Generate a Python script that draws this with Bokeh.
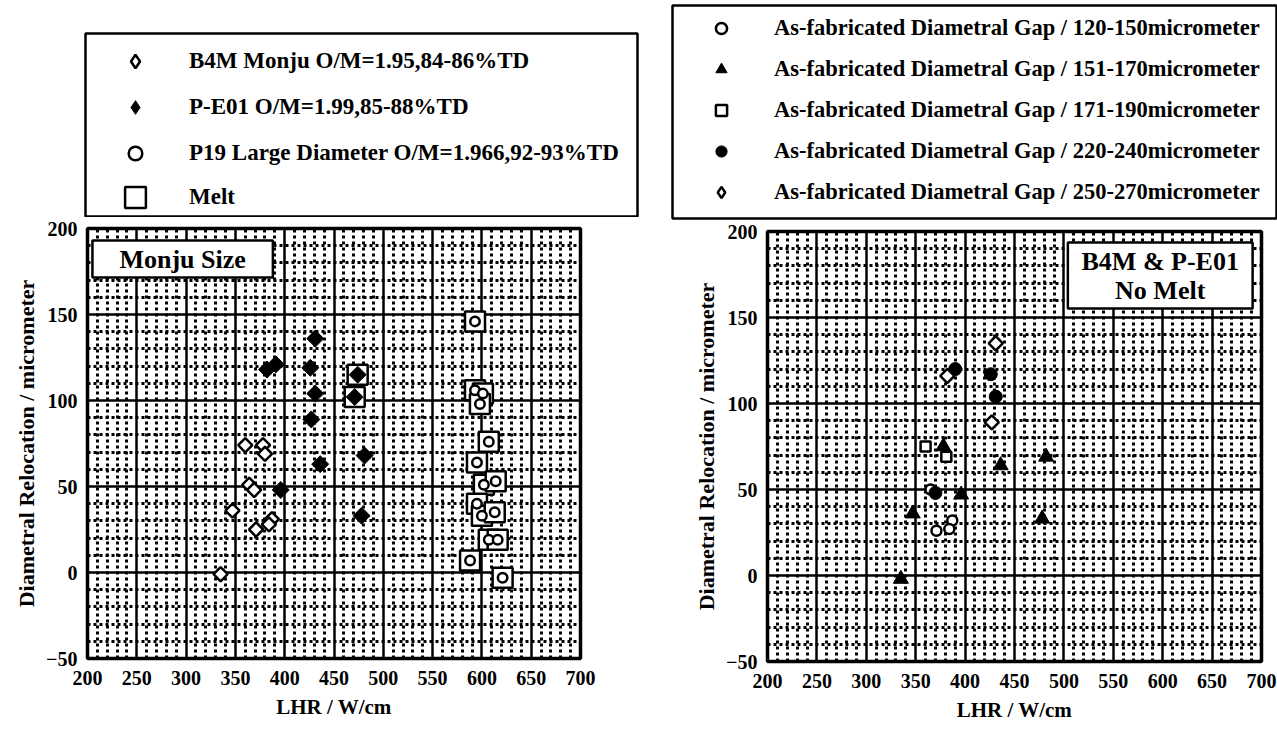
import math
import numpy as np
from bokeh.plotting import figure
from bokeh.models import (FixedTicker, Legend, LegendItem, BoxAnnotation, Label, Range1d)
from bokeh.layouts import row, column
from bokeh.embed import file_html
from bokeh.resources import INLINE

# ---------------- data: left panel (Monju size) ----------------
b4m_lhr = [360, 378, 380, 364, 369, 347, 371, 387, 384, 335]
b4m_reloc = [74, 74, 69, 51, 48, 36, 25, 31, 28, -1]

pe01_lhr = [431, 382, 391, 426, 431, 427, 436, 396, 481, 478, 474, 471]
pe01_reloc = [136, 118, 121, 119, 104, 89, 63, 48, 68, 33, 115, 102]
pe01_melt = [False, False, False, False, False, False, False, False, False, False, True, True]

p19_lhr = [593, 593, 601, 598, 607, 595, 602, 614, 595, 600, 613, 607, 616, 588, 621]
p19_reloc = [146, 106, 104, 98, 76, 64, 51, 53, 40, 33, 35, 19, 19, 7, -3]
p19_melt = [True] * 15

left_labels = ["B4M Monju O/M=1.95,84-86%TD",
               "P-E01 O/M=1.99,85-88%TD",
               "P19 Large Diameter O/M=1.966,92-93%TD",
               "Melt"]

# ---------------- data: right panel (no melt, by gap) ----------------
gap120_lhr = [365, 371, 387, 384]
gap120_reloc = [50, 26, 32, 27]
gap151_lhr = [378, 436, 396, 347, 335, 482, 478]
gap151_reloc = [75, 64, 47, 36, -2, 69, 33]
gap171_lhr = [360, 381]
gap171_reloc = [75, 69]
gap220_lhr = [390, 426, 431, 370]
gap220_reloc = [120, 117, 104, 48]
gap250_lhr = [431, 382, 427]
gap250_reloc = [135, 116, 89]

right_labels = ["As-fabricated Diametral Gap / 120-150micrometer",
                "As-fabricated Diametral Gap / 151-170micrometer",
                "As-fabricated Diametral Gap / 171-190micrometer",
                "As-fabricated Diametral Gap / 220-240micrometer",
                "As-fabricated Diametral Gap / 250-270micrometer"]

x_ticks = [200, 250, 300, 350, 400, 450, 500, 550, 600, 650, 700]
y_ticks = [-50, 0, 50, 100, 150, 200]
x_label = "LHR / W/cm"
y_label = "Diametral Relocation / micrometer"

FONT = "Liberation Serif"
x_minor = [v for v in range(x_ticks[0], x_ticks[-1] + 1, 10) if v not in x_ticks]
y_minor = [v for v in range(y_ticks[0], y_ticks[-1] + 1, 10) if v not in y_ticks]
NAN = np.array([np.nan])

# marker styles
OPEN = dict(fill_color="white", line_color="black", line_width=2.5)
FILLED = dict(fill_color="black", line_color="black", line_width=1)


def make_fig(width, height, left, right, top, bottom):
    p = figure(width=width, height=height, x_range=Range1d(200, 700), y_range=Range1d(-50, 200),
               output_backend="svg", toolbar_location=None,
               min_border_left=left, min_border_right=right,
               min_border_top=top, min_border_bottom=bottom)
    p.frame_align = False
    p.background_fill_color = "white"
    p.border_fill_color = "white"
    xt = FixedTicker(ticks=x_ticks, minor_ticks=x_minor)
    yt = FixedTicker(ticks=y_ticks, minor_ticks=y_minor)
    p.xaxis.ticker = xt
    p.yaxis.ticker = yt
    p.xgrid.ticker = xt
    p.ygrid.ticker = yt
    for g in (p.xgrid, p.ygrid):
        g.grid_line_color = "black"
        g.grid_line_width = 2.5
        g.grid_line_alpha = 1
        g.minor_grid_line_color = "black"
        g.minor_grid_line_width = 3
        g.minor_grid_line_dash = "3 3"
    p.axis.axis_line_color = None
    p.axis.major_tick_line_color = None
    p.axis.minor_tick_line_color = None
    p.axis.major_tick_out = 0
    p.axis.major_tick_in = 0
    p.axis.minor_tick_out = 0
    p.axis.minor_tick_in = 0
    p.axis.major_label_text_font = FONT
    p.axis.major_label_text_font_style = "bold"
    p.axis.major_label_text_font_size = "20px"
    p.axis.major_label_text_color = "black"
    p.axis.axis_label_text_font = FONT
    p.axis.axis_label_text_font_style = "bold"
    p.axis.axis_label_text_color = "black"
    p.xaxis.axis_label = x_label
    p.yaxis.axis_label = y_label
    p.xaxis.axis_label_text_font_size = "21px"
    p.yaxis.axis_label_text_font_size = "22px"
    p.xaxis.major_label_standoff = 12
    p.yaxis.major_label_standoff = 10
    p.xaxis.axis_label_standoff = 7
    p.yaxis.axis_label_standoff = 4
    p.outline_line_color = "black"
    p.outline_line_width = 3.5
    p.outline_line_alpha = 1
    return p


def make_legend_fig(width, height, left, right, top, bottom):
    f = figure(width=width, height=height, x_range=Range1d(0, 1), y_range=Range1d(0, 1),
               x_axis_type=None, y_axis_type=None, output_backend="svg", toolbar_location=None,
               min_border_left=left, min_border_right=right, min_border_top=top, min_border_bottom=bottom)
    f.frame_align = False
    f.background_fill_color = "white"
    f.border_fill_color = "white"
    f.outline_line_color = "black"
    f.outline_line_width = 2.5
    f.outline_line_alpha = 1
    return f


def style_legend(lg, font_size, gw, gh, standoff, label_w, spacing):
    lg.label_text_font = FONT
    lg.label_text_font_style = "bold"
    lg.label_text_font_size = font_size
    lg.label_text_color = "black"
    lg.label_text_baseline = "middle"
    lg.glyph_width = gw
    lg.glyph_height = gh
    lg.label_standoff = standoff
    lg.label_width = label_w
    lg.label_height = gh
    lg.padding = 0
    lg.spacing = spacing
    lg.margin = 0
    lg.border_line_color = None
    lg.background_fill_alpha = 0


# ---------------- left panel ----------------
pl = make_fig(640, 513, 87, 60, 11, 72)

melt_x = [x for x, m in zip(p19_lhr, p19_melt) if m] + [x for x, m in zip(pe01_lhr, pe01_melt) if m]
melt_y = [y for y, m in zip(p19_reloc, p19_melt) if m] + [y for y, m in zip(pe01_reloc, pe01_melt) if m]

pl.rect(x=melt_x, y=melt_y, width=20, height=20, width_units="screen", height_units="screen",
        fill_color="white", line_color="black", line_width=2.5)
pl.scatter(b4m_lhr, b4m_reloc, marker="square", angle=math.pi / 4, size=10, **OPEN)
pl.scatter(pe01_lhr, pe01_reloc, marker="square", angle=math.pi / 4, size=12, **FILLED)
pl.scatter(p19_lhr, p19_reloc, marker="circle", size=9.5, **OPEN)

pl.add_layout(BoxAnnotation(left=205, right=388, top=193, bottom=171.5, fill_color="white", fill_alpha=1,
                            line_color="black", line_width=2.5, line_alpha=1))
pl.add_layout(Label(x=296.5, y=182, text="Monju Size", text_align="center", text_baseline="middle",
                    text_font=FONT, text_font_style="bold", text_font_size="26px", text_color="black"))

# left legend box (its own canvas above the plot)
ll = make_legend_fig(640, 217, 85, 3, 33, 1)
lg_b4m = ll.scatter(NAN, NAN, marker="diamond", **OPEN)
lg_pe01 = ll.scatter(NAN, NAN, marker="diamond", **FILLED)
lg_p19 = ll.scatter(NAN, NAN, marker="circle", **OPEN)
lg_melt = ll.rect(NAN, NAN, width=1, height=1, **OPEN)

leg_a = Legend(items=[LegendItem(label=left_labels[0], renderers=[lg_b4m]),
                      LegendItem(label=left_labels[1], renderers=[lg_pe01]),
                      LegendItem(label=left_labels[2], renderers=[lg_p19])],
               location=(12, 46))
style_legend(leg_a, "23px", 76, 34, 16, 430, 12)
ll.add_layout(leg_a, "center")
leg_b = Legend(items=[LegendItem(label=left_labels[3], renderers=[lg_melt])], location=(37, 6))
style_legend(leg_b, "23px", 26, 26, 41, 100, 0)
ll.add_layout(leg_b, "center")

# ---------------- right panel ----------------
pr = make_fig(637, 510, 127, 16, 11, 69)

pr.scatter(gap120_lhr, gap120_reloc, marker="circle", size=10, **OPEN)
pr.scatter(gap151_lhr, gap151_reloc, marker="triangle", size=15, **FILLED)
pr.scatter(gap171_lhr, gap171_reloc, marker="square", size=10, **OPEN)
pr.scatter(gap220_lhr, gap220_reloc, marker="circle", size=13, **FILLED)
pr.scatter(gap250_lhr, gap250_reloc, marker="square", angle=math.pi / 4, size=10, **OPEN)

pr.add_layout(BoxAnnotation(left=504, right=691, top=193.6, bottom=155.2, fill_color="white", fill_alpha=1,
                            line_color="black", line_width=2.5, line_alpha=1))
pr.add_layout(Label(x=597.5, y=174.4, text="B4M & P-E01\nNo Melt", text_align="center", text_baseline="middle",
                    text_font=FONT, text_font_style="bold", text_font_size="26px", text_color="black",
                    text_line_height=1.0))

lr = make_legend_fig(637, 220, 32, 1, 5, 2)
lg120 = lr.scatter(NAN, NAN, marker="circle", **OPEN)
lg151 = lr.scatter(NAN, NAN, marker="triangle", **FILLED)
lg171 = lr.scatter(NAN, NAN, marker="square", **OPEN)
lg220 = lr.scatter(NAN, NAN, marker="circle", **FILLED)
lg250 = lr.scatter(NAN, NAN, marker="diamond", **OPEN)
leg_r = Legend(items=[LegendItem(label=lab, renderers=[r]) for lab, r in
                      zip(right_labels, [lg120, lg151, lg171, lg220, lg250])],
               location=(11, 12))
style_legend(leg_r, "22.5px", 76, 28, 15, 480, 13)
lr.add_layout(leg_r, "center")

layout = row(column(ll, pl), column(lr, pr))
open("out.html", "w").write(file_html(layout, INLINE))
